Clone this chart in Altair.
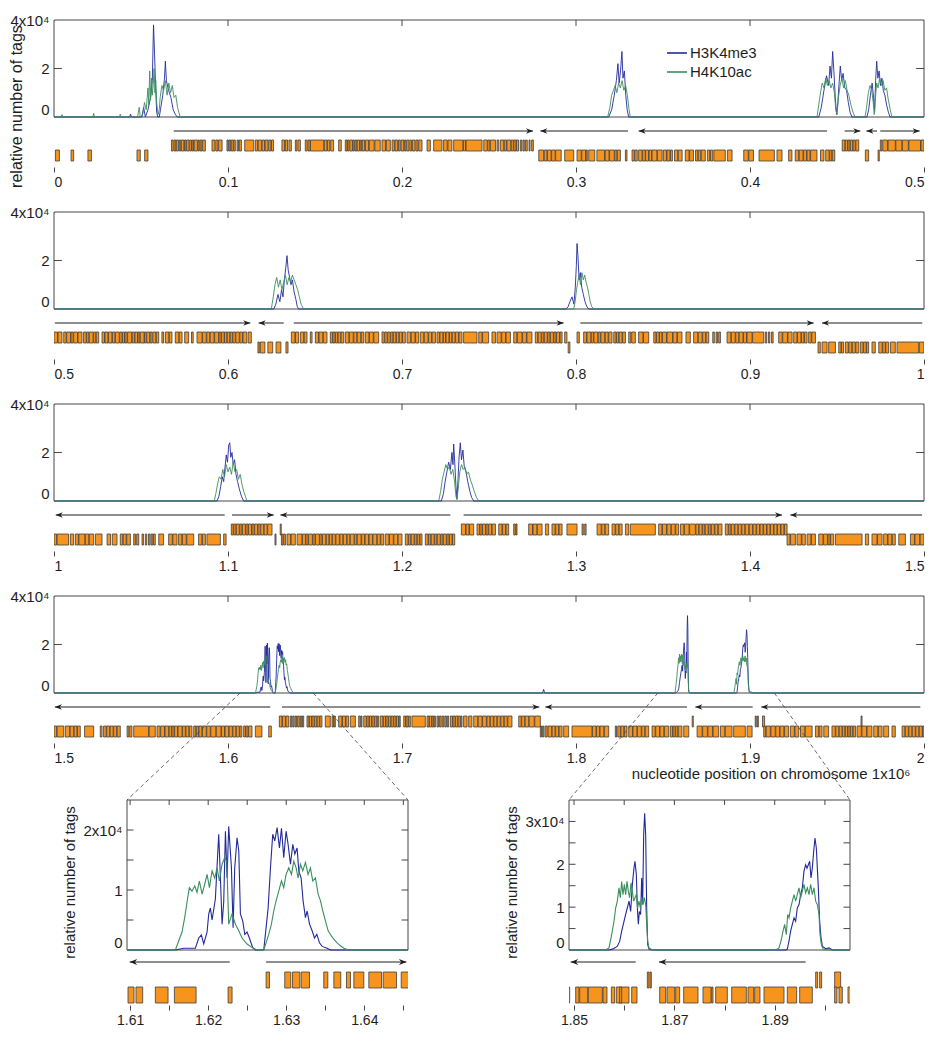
import altair as alt
import pandas as pd

FONT = "Liberation Sans"
BLUE = "#232a9c"
GREEN = "#3b8e5f"
ORANGE = "#f7941d"
EDGE = "#3c3c3c"
INK = "#1e1e1e"
FRAME = "#474747"
SERIES = ["H3K4me3", "H4K10ac"]

# ---------------- signal: (position in Mb, tags in units of 1e4) ----------------
H3K4ME3_P1 = [
    (0.0, 0), (0.0435, 0), (0.044, 0.12), (0.0445, 0),
    (0.0505, 0), (0.0515, 0.4), (0.0525, 0), (0.054, 0.3), (0.0555, 0.8), (0.0565, 1.5), (0.0572, 3.8),
    (0.0578, 2.6), (0.0584, 1.2), (0.059, 0.2), (0.0596, 0), (0.0605, 0), (0.0612, 0.3), (0.0625, 0.9),
    (0.0635, 1.6), (0.064, 2.3), (0.0646, 1.5), (0.0655, 1.2), (0.0663, 1.0), (0.0672, 0.8), (0.0685, 0.3),
    (0.0698, 0.1), (0.0708, 0),
    (0.3188, 0), (0.3205, 0.3), (0.322, 0.9), (0.3232, 1.5), (0.3241, 2.2), (0.3248, 1.4), (0.3256, 1.9),
    (0.3264, 2.7), (0.327, 1.6), (0.3278, 1.9), (0.3286, 0.9), (0.3294, 0.3), (0.3303, 0),
    (0.4395, 0), (0.441, 0.4), (0.4425, 1.1), (0.444, 1.7), (0.4452, 1.3), (0.446, 2.1), (0.4468, 1.6),
    (0.4475, 2.7), (0.4482, 1.9), (0.449, 0.8), (0.4498, 0.1), (0.4505, 0.6), (0.4512, 1.4), (0.4519, 2.1),
    (0.4527, 1.5), (0.4535, 1.8), (0.4545, 1.2), (0.4555, 1.1), (0.4565, 0.6), (0.4575, 0.2), (0.4586, 0),
    (0.4672, 0), (0.4682, 0.3), (0.4692, 0.9), (0.4702, 1.4), (0.471, 0.8), (0.4716, 0.2), (0.4722, 1.5),
    (0.4728, 2.3), (0.4735, 1.6), (0.4742, 1.9), (0.475, 1.3), (0.4758, 1.6), (0.4766, 1.1), (0.4775, 0.9),
    (0.4785, 0.5), (0.4795, 0.2), (0.4805, 0),
    (0.5, 0),
]
H3K4ME3_P2 = [
    (0.6263, 0), (0.6275, 0.2), (0.6287, 0.6), (0.6298, 0.3), (0.6308, 0.8), (0.6316, 0.5), (0.6324, 1.2),
    (0.6332, 1.7), (0.6339, 2.2), (0.6346, 1.6), (0.6354, 1.3), (0.6362, 1.0), (0.637, 1.2), (0.638, 0.7),
    (0.639, 0.4), (0.6398, 0.1), (0.6406, 0),
    (0.7943, 0), (0.7955, 0.1), (0.7965, 0.3), (0.7977, 0.5), (0.7988, 0.2), (0.7996, 0.9), (0.8002, 1.8),
    (0.8006, 2.7), (0.8011, 2.2), (0.8018, 1.2), (0.8025, 1.5), (0.8033, 0.9), (0.8042, 0.6), (0.8052, 0.3),
    (0.8062, 0.1), (0.8073, 0),
    (1.0, 0),
]
H3K4ME3_P3 = [
    (1.0937, 0), (1.0948, 0.2), (1.0958, 0.6), (1.0967, 1.0), (1.0975, 0.8), (1.0983, 1.4), (1.099, 1.9),
    (1.0997, 1.6), (1.1004, 2.3), (1.101, 2.4), (1.1016, 1.8), (1.1023, 2.0), (1.103, 1.5), (1.1038, 1.7),
    (1.1046, 1.1), (1.1055, 0.8), (1.1065, 0.5), (1.1077, 0.2), (1.109, 0),
    (1.2226, 0), (1.2238, 0.3), (1.2248, 0.8), (1.2258, 1.2), (1.2268, 1.6), (1.2278, 1.3), (1.2287, 2.0),
    (1.2293, 1.5), (1.2297, 2.35), (1.2303, 1.6), (1.231, 0.6), (1.2316, 0.1), (1.2322, 0.9), (1.2328, 1.8),
    (1.2335, 2.4), (1.2342, 1.7), (1.235, 2.1), (1.2358, 1.4), (1.2368, 1.2), (1.2378, 0.8), (1.239, 0.4),
    (1.24, 0.15), (1.2412, 0),
    (1.5, 0),
]
H3K4ME3_P4 = [
    (1.6158, 0), (1.61687, 0.03), (1.61836, 0.03), (1.61879, 0.2), (1.61913, 0.25), (1.61943, 0.1),
    (1.61986, 0.3), (1.62007, 0.6), (1.62028, 0.7), (1.6205, 0.5), (1.62092, 0.85), (1.62135, 1.93),
    (1.62157, 1.2), (1.62178, 0.43), (1.62199, 0.8), (1.62221, 1.98), (1.62242, 1.2), (1.62263, 2.06),
    (1.62298, 1.37), (1.62319, 0.37), (1.6234, 1.37), (1.6237, 1.87), (1.62392, 1.65), (1.62413, 0.6),
    (1.62443, 0.48), (1.62469, 0.26), (1.62498, 0.3), (1.62528, 0.2), (1.62554, 0.1), (1.62571, 0.04),
    (1.62605, 0),
    (1.62712, 0), (1.62733, 0.26), (1.62768, 0.7), (1.62798, 1.37), (1.62827, 1.93), (1.62853, 1.82),
    (1.62883, 2.04), (1.62913, 1.7), (1.62939, 2.03), (1.62968, 1.54), (1.62998, 1.98), (1.63024, 1.76),
    (1.63054, 1.43), (1.63084, 1.76), (1.6311, 1.6), (1.63139, 1.7), (1.63161, 1.32), (1.63191, 1.2),
    (1.63216, 0.82), (1.63246, 0.54), (1.63268, 0.65), (1.63298, 0.43), (1.63332, 0.32), (1.63362, 0.2),
    (1.63392, 0.26), (1.63426, 0.12), (1.6346, 0.06), (1.63524, 0.03), (1.63567, 0),
    (1.7808, 0), (1.7814, 0.15), (1.782, 0),
    (1.85697, 0), (1.85764, 0.02), (1.85817, 0.05), (1.85863, 0.09), (1.8591, 0.2), (1.8595, 0.44),
    (1.85996, 0.67), (1.86029, 0.83), (1.86062, 0.98), (1.86096, 1.14), (1.86129, 0.9), (1.86162, 1.53),
    (1.86195, 1.91), (1.86215, 2.07), (1.86242, 1.76), (1.86262, 0.98), (1.86282, 0.6), (1.86302, 0.9),
    (1.86328, 0.83), (1.86348, 1.68), (1.86368, 1.06), (1.86388, 2.69), (1.86408, 3.19), (1.86428, 2.69),
    (1.86448, 0.98), (1.86468, 0.13), (1.86494, 0.02), (1.86561, 0),
    (1.89218, 0), (1.89251, 0.02), (1.89284, 0.21), (1.89317, 0.44), (1.89351, 0.6), (1.89384, 0.75),
    (1.89417, 0.67), (1.8945, 0.98), (1.89484, 1.06), (1.89517, 1.29), (1.8955, 1.45), (1.89583, 1.84),
    (1.89616, 1.99), (1.89643, 1.91), (1.8967, 1.99), (1.89696, 2.07), (1.89723, 1.68), (1.89749, 1.91),
    (1.89776, 2.3), (1.89802, 2.61), (1.89829, 2.38), (1.89849, 1.91), (1.89869, 1.45), (1.89895, 0.67),
    (1.89922, 0.29), (1.89949, 0.09), (1.90015, 0.03), (1.90081, 0.05), (1.90148, 0),
    (2.0, 0),
]

H4K10AC_P1 = [
    (0.0, 0), (0.0041, 0), (0.0046, 0.1), (0.0051, 0), (0.0223, 0), (0.0228, 0.15), (0.0233, 0),
    (0.0376, 0), (0.0381, 0.12), (0.0386, 0),
    (0.048, 0), (0.049, 0.4), (0.0495, 0), (0.051, 0.1), (0.052, 0.6), (0.053, 0.3), (0.054, 1.2),
    (0.0545, 0.5), (0.055, 1.9), (0.0555, 0.7), (0.056, 1.6), (0.0565, 0.9), (0.057, 1.3), (0.0575, 2.0),
    (0.058, 1.0), (0.0585, 1.5), (0.059, 0.6), (0.0598, 0.1), (0.0605, 0.3), (0.061, 0.8), (0.062, 1.3),
    (0.063, 1.1), (0.064, 1.5), (0.065, 0.9), (0.066, 1.4), (0.067, 1.0), (0.068, 1.3), (0.069, 0.8),
    (0.07, 0.9), (0.071, 0.4), (0.0725, 0),
    (0.3182, 0), (0.3195, 0.4), (0.3205, 0.9), (0.3215, 1.1), (0.3225, 1.3), (0.3235, 1.0), (0.3245, 1.4),
    (0.3255, 1.2), (0.3265, 1.5), (0.3275, 1.1), (0.3285, 1.3), (0.3295, 0.9), (0.3305, 0.3), (0.3312, 0),
    (0.4385, 0), (0.4395, 0.5), (0.4405, 1.0), (0.4415, 1.4), (0.4425, 1.2), (0.4435, 1.6), (0.4445, 1.3),
    (0.4455, 1.5), (0.4465, 1.2), (0.4475, 1.4), (0.4485, 1.0), (0.4493, 0.3), (0.45, 0.1), (0.4508, 0.8),
    (0.4518, 1.3), (0.4528, 1.6), (0.4538, 1.2), (0.4548, 1.5), (0.4558, 1.1), (0.4568, 0.9), (0.458, 0.5),
    (0.4592, 0.2), (0.4603, 0),
    (0.4661, 0), (0.467, 0.4), (0.468, 1.0), (0.469, 1.3), (0.47, 1.1), (0.4708, 0.6), (0.4714, 0.1),
    (0.472, 0.7), (0.4728, 1.4), (0.4736, 1.2), (0.4745, 1.6), (0.4755, 1.3), (0.4765, 1.5), (0.4775, 1.1),
    (0.4785, 1.2), (0.4795, 0.7), (0.4806, 0.3), (0.4816, 0),
    (0.5, 0),
]
H4K10AC_P2 = [
    (0.6249, 0), (0.626, 0.5), (0.627, 1.0), (0.628, 1.3), (0.629, 0.9), (0.63, 1.2), (0.631, 0.8),
    (0.632, 1.1), (0.633, 1.4), (0.634, 1.0), (0.635, 1.3), (0.636, 1.1), (0.637, 1.4), (0.638, 1.2),
    (0.639, 1.0), (0.64, 0.8), (0.641, 0.5), (0.642, 0.2), (0.6435, 0),
    (0.7987, 0), (0.7995, 0.3), (0.8003, 0.8), (0.801, 1.1), (0.8018, 1.4), (0.8026, 1.0), (0.8034, 1.5),
    (0.8042, 1.2), (0.805, 1.4), (0.8058, 1.1), (0.8066, 0.9), (0.8074, 0.6), (0.8082, 0.3), (0.809, 0.1),
    (0.8102, 0),
    (1.0, 0),
]
H4K10AC_P3 = [
    (1.0921, 0), (1.093, 0.3), (1.094, 0.7), (1.095, 1.0), (1.096, 0.9), (1.097, 1.3), (1.098, 1.0),
    (1.099, 1.5), (1.1, 1.2), (1.101, 1.4), (1.102, 1.1), (1.103, 1.6), (1.104, 1.2), (1.105, 1.3),
    (1.106, 0.9), (1.107, 1.1), (1.108, 0.7), (1.109, 0.4), (1.11, 0.2), (1.1109, 0),
    (1.2211, 0), (1.2222, 0.4), (1.2232, 0.9), (1.2242, 1.2), (1.2252, 1.5), (1.2262, 1.3), (1.2272, 1.4),
    (1.2282, 1.1), (1.2292, 1.3), (1.2302, 0.8), (1.231, 0.2), (1.2316, 0.05), (1.2323, 0.5), (1.2332, 1.2),
    (1.2342, 1.5), (1.2352, 1.3), (1.2362, 1.4), (1.2372, 1.1), (1.2382, 1.2), (1.2392, 0.9), (1.2402, 0.7),
    (1.2415, 0.4), (1.2428, 0.15), (1.2441, 0),
    (1.5, 0),
]
H4K10AC_P4 = [
    (1.6158, 0), (1.61622, 0.15), (1.61665, 0.3), (1.61699, 0.54), (1.61729, 0.8), (1.61759, 1.04),
    (1.61793, 0.98), (1.61828, 1.07), (1.61857, 0.96), (1.61887, 1.15), (1.61922, 0.93), (1.61956, 1.1),
    (1.61986, 1.26), (1.62016, 1.04), (1.6205, 1.32), (1.62084, 1.2), (1.62114, 1.37), (1.62144, 1.15),
    (1.62178, 1.43), (1.62212, 1.54), (1.62238, 1.48), (1.62263, 0.43), (1.62306, 0.6), (1.62349, 0.43),
    (1.62392, 0.32), (1.62434, 0.2), (1.62498, 0.1), (1.62563, 0.04), (1.62627, 0),
    (1.62712, 0), (1.62742, 0.12), (1.62776, 0.26), (1.6281, 0.43), (1.6284, 0.65), (1.6287, 0.82),
    (1.62904, 0.98), (1.62939, 1.15), (1.62968, 1.04), (1.62998, 1.26), (1.63033, 1.37), (1.63067, 1.26),
    (1.63097, 1.48), (1.63127, 1.37), (1.63152, 1.2), (1.63182, 1.43), (1.63212, 1.32), (1.63246, 1.46),
    (1.6328, 1.26), (1.6331, 1.37), (1.6334, 1.15), (1.63374, 1.2), (1.63409, 0.93), (1.63439, 0.82),
    (1.63469, 0.65), (1.63503, 0.48), (1.63537, 0.32), (1.6358, 0.23), (1.6361, 0.18), (1.63652, 0.12),
    (1.63695, 0.07), (1.63738, 0.03), (1.63802, 0),
    (1.85631, 0), (1.85697, 0.05), (1.8575, 0.36), (1.85797, 0.67), (1.8583, 0.98), (1.85863, 1.14),
    (1.85896, 1.45), (1.85923, 1.22), (1.8595, 1.6), (1.85976, 1.29), (1.86003, 1.53), (1.86029, 1.29),
    (1.86056, 1.6), (1.86082, 1.37), (1.86109, 1.22), (1.86136, 1.57), (1.86162, 1.37), (1.86189, 1.14),
    (1.86215, 1.22), (1.86242, 1.29), (1.86268, 0.98), (1.86295, 1.14), (1.86322, 0.98), (1.86348, 1.22),
    (1.86375, 1.06), (1.86401, 1.22), (1.86428, 1.06), (1.86448, 0.6), (1.86468, 0.21), (1.86494, 0.05),
    (1.86561, 0),
    (1.89019, 0), (1.89085, 0.05), (1.89125, 0.21), (1.89165, 0.44), (1.89198, 0.6), (1.89231, 0.36),
    (1.89258, 0.83), (1.89284, 0.75), (1.89317, 0.98), (1.89351, 1.14), (1.89384, 1.29), (1.89417, 1.14),
    (1.8945, 1.29), (1.89484, 1.45), (1.89517, 1.22), (1.8955, 1.37), (1.89583, 1.53), (1.89616, 1.33),
    (1.8965, 1.45), (1.89683, 1.29), (1.89716, 1.53), (1.89749, 1.29), (1.89782, 1.45), (1.89816, 1.14),
    (1.89849, 1.06), (1.89882, 0.83), (1.89902, 0.36), (1.89929, 0.13), (1.89962, 0.02), (1.90048, 0),
    (2.0, 0),
]

# ---------------- genes (start, end) in kb ----------------
GENES_TOP_KB = [
    (67.5, 68.5), (69, 70), (70.3, 71.5), (72, 72.8), (73.2, 74.6), (75, 75.8), (76.2, 77.6), (78, 79),
    (79.4, 80.2), (80.6, 82.4), (82.8, 83.5), (84, 85), (85.4, 87),
    (90.8, 92.5), (93, 94.2), (94.6, 96.6), (99.4, 100.2), (100.6, 101.5), (101.9, 103), (103.3, 104.2),
    (105.2, 106), (106.5, 107.7), (109.6, 114.8), (115.7, 117), (117.4, 119.2), (119.6, 121), (121.4, 123),
    (123.4, 124.6), (125, 126.2), (131, 132.5), (133, 134.2), (135, 136.4), (138.7, 139.6), (140.2, 141.6),
    (144.4, 145.5), (146, 147.2), (147.4, 155), (155.4, 156.8), (157.2, 158.5), (159, 160.7), (163.6, 165.1),
    (167.4, 168.4), (168.7, 169.6), (170, 171.5), (171.8, 172.6), (173, 174), (174.3, 175.6), (176, 176.8),
    (177.2, 178.5), (179, 180.8), (181.2, 184), (184.4, 187.5), (188.5, 190.5), (191, 193.3), (194.3, 195.6),
    (196, 197.5), (198, 199), (199.5, 201), (201.4, 202.3), (202.7, 204), (204.5, 205.5), (206, 207.5),
    (208, 209.2), (209.6, 211.5), (214.4, 216.3), (218.2, 223), (223.9, 226), (226.4, 228.7), (229.7, 235),
    (235.3, 236.5), (236.8, 246), (247, 249), (249.3, 250.5), (250.8, 253.7), (254.6, 255.6), (256.5, 258.5),
    (258.8, 260), (260.3, 262.5), (262.8, 264), (264.3, 265.5), (265.8, 267), (268, 268.8), (269.5, 270.3),
    (271, 272), (273, 273.6), (274.5, 275.5),
    (453, 454.5), (454.8, 456), (456.3, 457.4), (457.7, 459), (459.3, 460.5), (460.8, 462.5),
    (474.9, 475.8), (476.3, 479), (479.4, 483.5), (483.8, 487.3), (487.6, 491), (491.3, 498), (498.3, 500),
    (500, 502), (502.3, 504.6), (505.6, 507), (507.3, 509.5), (509.8, 511), (511.3, 513.5), (513.8, 516.1),
    (517, 518.5), (518.8, 520), (520.3, 522.5), (522.8, 524), (524.3, 525.7), (527.6, 529), (529.3, 531),
    (531.3, 533.3), (533.6, 535), (535.3, 537.5), (537.8, 539.1), (539.4, 540.5), (540.8, 542), (542.3, 544.6),
    (545, 546.2), (546.5, 548), (548.3, 549.3), (549.6, 551.8), (552, 553), (553.3, 555), (555.3, 556.4),
    (556.8, 558.5), (558.8, 560.2), (562, 563), (564, 566), (566.3, 567.8), (569.7, 571.8), (572, 573.6),
    (575.1, 577.4), (579, 580), (582.2, 585.1), (585.4, 587.5), (587.8, 589.5), (589.8, 592), (592.3, 594.6),
    (594.9, 596), (596.3, 597.8), (598, 599.3), (599.6, 601), (601.3, 602.5), (602.8, 604.2), (604.5, 606.5),
    (606.8, 608.3), (608.6, 610.8), (611.6, 613.4),
    (636.4, 638.5), (638.8, 640.6), (641.6, 643.5), (643.8, 645.4), (647.3, 648.3), (650.2, 652), (652.3, 654.5),
    (654.8, 656.9), (658.8, 660), (660.3, 661.5), (661.8, 663), (663.3, 664.8), (665, 666.5), (667.4, 669.5),
    (669.8, 672), (672.3, 674), (674.3, 676.3), (676.6, 678), (678.9, 681), (681.3, 683.5), (683.8, 686.6),
    (688.5, 689.8), (690.1, 691.5), (691.8, 693.2), (693.5, 694.8), (695, 696.5), (696.8, 698.2), (698.5, 700),
    (700.3, 701.9), (702.9, 705), (705.3, 707.5), (707.8, 709.6), (710.5, 712.5), (712.8, 715), (715.3, 717),
    (717.3, 719.2), (720.1, 721.5), (721.8, 723.5), (723.8, 725), (725.3, 727), (727.3, 728.6), (728.9, 730.5),
    (730.8, 732.5), (732.8, 734.5), (735.4, 743.1), (744.1, 746), (746.3, 749.8), (751.7, 753.7), (754.6, 757),
    (757.3, 759.5), (759.8, 762.3), (764.2, 766), (766.3, 769), (769.3, 771.5), (771.8, 774.7), (776.6, 778),
    (778.3, 780), (780.3, 781.5), (781.8, 783.5), (783.8, 785), (785.3, 787), (787.3, 788.5), (788.8, 790.5),
    (790.8, 792), (793.5, 794.8),
    (800.6, 801.9), (804.4, 806), (806.3, 808.5), (808.8, 810), (810.3, 812.5), (812.8, 814), (814.3, 816.5),
    (816.8, 818.5), (818.8, 820.7), (821.7, 823), (823.3, 824.5), (824.8, 826.5), (826.8, 828.4), (830.3, 831.5),
    (832, 834.1), (836, 838.5), (838.8, 841.8), (844.7, 846), (846.3, 847.8), (848, 849.4), (849.7, 852),
    (852.3, 855.5), (855.8, 858), (858.3, 860.9), (863.2, 865.7), (867.6, 870), (870.3, 872.5), (872.8, 874.5),
    (874.8, 876.3), (878.6, 879.5), (880.5, 881.3), (882, 883), (886.8, 889), (889.3, 891.5), (891.8, 893.5),
    (893.8, 896), (896.3, 898), (898.3, 901.2), (901.5, 907.9), (908.8, 909.6), (910.6, 911.4), (912.4, 913.3),
    (916.5, 918.5), (918.8, 921.5), (921.8, 924.2), (925.1, 927), (927.3, 929.3), (929.6, 931), (931.3, 932.8),
    (933.7, 935.2), (935.5, 937.6),
    (1101.9, 1103), (1103.3, 1104.5), (1104.8, 1106.5), (1106.8, 1108), (1108.3, 1110), (1110.3, 1111.5),
    (1111.8, 1113.5), (1113.8, 1115), (1115.3, 1117), (1117.3, 1118.5), (1118.8, 1120.5), (1120.8, 1122.5),
    (1122.8, 1125.3), (1130, 1130.6),
    (1234.1, 1236.5), (1236.8, 1238.5), (1238.8, 1241.2), (1243.1, 1244.5), (1244.8, 1246), (1246.3, 1248),
    (1248.3, 1249.5), (1249.8, 1251.5), (1251.8, 1253.7), (1255.6, 1257.5), (1257.8, 1259.5), (1259.8, 1261.3),
    (1264.2, 1265.1), (1265.5, 1266.1), (1272.8, 1275), (1275.3, 1277.5), (1277.8, 1280.5), (1282.4, 1284.3),
    (1286.2, 1288), (1288.3, 1290), (1290.3, 1292), (1294.8, 1300.6), (1303.5, 1304.2), (1305, 1305.8),
    (1312.1, 1314.5), (1314.8, 1316.5), (1316.8, 1318.8), (1320.7, 1322.5), (1322.8, 1324.5), (1324.8, 1326.5),
    (1328.4, 1330.3), (1331.2, 1345.6), (1347.5, 1349.4), (1349.7, 1352), (1352.3, 1354.5), (1354.8, 1357),
    (1357.3, 1359), (1360, 1362), (1362.3, 1365), (1365.3, 1368.6), (1368.9, 1370.5), (1370.8, 1372.5),
    (1372.8, 1374), (1374.3, 1376), (1376.3, 1377.5), (1377.8, 1379.5), (1379.8, 1381.5), (1381.8, 1383.9),
    (1385.8, 1387.5), (1387.8, 1389), (1389.3, 1391), (1391.3, 1393), (1393.3, 1395), (1395.3, 1397),
    (1397.3, 1399.3), (1399.6, 1401.5), (1401.8, 1403.5), (1403.8, 1405.5), (1405.8, 1407.5), (1407.8, 1409.5),
    (1409.8, 1411.5), (1411.8, 1413.5), (1413.8, 1415.5), (1415.8, 1417.5), (1417.8, 1419.5), (1419.8, 1421.3),
    (1629.5, 1631), (1631.3, 1633), (1633.3, 1634.9), (1635.8, 1636.6), (1637.2, 1638), (1638.6, 1639.4),
    (1640, 1641), (1641.6, 1642.4), (1642.8, 1643.5), (1645.4, 1646.5), (1646.8, 1648), (1648.3, 1649.5),
    (1649.8, 1651), (1651.3, 1652.5), (1652.8, 1654), (1655.9, 1658.8), (1659.8, 1660.6), (1661, 1661.7),
    (1663.6, 1665.5), (1665.8, 1667.5), (1667.8, 1669.3), (1670.3, 1673.2), (1675.1, 1676), (1676.4, 1677),
    (1678, 1679.5), (1679.8, 1681), (1681.3, 1682.5), (1682.8, 1684), (1684.3, 1685.5), (1685.8, 1686.6),
    (1687.5, 1689), (1689.3, 1690.5), (1690.8, 1692), (1692.3, 1693.5), (1693.8, 1695), (1695.3, 1696.5),
    (1696.8, 1698), (1698.3, 1699), (1701, 1702), (1702.3, 1703.5), (1703.8, 1704.8), (1705.7, 1713.4),
    (1714.4, 1715.5), (1715.8, 1717), (1717.3, 1718.2), (1718.5, 1719.2), (1720.1, 1721), (1721.6, 1722.5),
    (1723.1, 1724), (1724.6, 1725.5), (1726, 1726.8), (1727.8, 1729), (1729.3, 1730.5), (1730.8, 1732),
    (1732.3, 1733.5), (1733.8, 1734.5), (1735.4, 1737.4), (1738.3, 1740.2), (1741.2, 1743.5), (1743.8, 1746),
    (1746.3, 1748.5), (1748.8, 1750.5), (1750.8, 1752.5), (1752.8, 1754.5), (1754.8, 1756.5), (1756.8, 1758.5),
    (1758.8, 1760.5), (1760.8, 1763.2), (1767.1, 1768.5), (1768.8, 1770.5), (1770.8, 1772.8), (1773.1, 1776),
    (1776.3, 1779.5),
    (1866.8, 1867.4), (1903, 1903.6), (1904.2, 1904.8), (1907.2, 1908.4), (1963.8, 1964.4),
]
GENES_BOTTOM_KB = [
    (0.8, 3.1), (9.8, 11.3), (19.5, 21.5), (47.7, 49.6), (52.1, 54),
    (278.6, 281.4), (281.8, 283.3), (283.6, 285.7), (286, 288), (288.3, 291.5), (293.5, 298.7), (300.6, 303),
    (303.3, 305.5), (305.8, 306.5), (307.3, 310.8), (312, 316.4), (316.8, 319), (319.3, 322), (322.3, 323.5),
    (323.8, 325.5), (328.4, 329.3),
    (332.2, 333.5), (333.8, 335.2), (336, 338), (338.3, 339.8), (340, 341.7), (342, 343.4), (343.7, 346.5),
    (346.8, 349.5), (350.2, 352), (352.3, 354), (354.3, 355.4), (356.6, 358.5), (358.8, 361), (362.8, 365),
    (365.3, 367.5), (368.7, 370), (370.3, 371.7), (372, 374.3), (375.5, 376.8), (377.3, 378.6), (379.2, 385.8),
    (387, 389.7), (396.4, 399), (399.3, 402), (405.2, 414), (415.5, 418.4),
    (422.2, 424.1), (426, 428), (428.3, 430.5), (430.8, 432.5), (432.8, 434.5), (434.8, 438.5), (440.5, 442.5),
    (443.5, 445.5), (445.8, 447), (447.3, 448.7), (466.3, 468.2), (473.6, 474.3),
    (617.2, 618), (618.6, 621.2), (622.9, 625.7), (627.6, 630.4), (633.3, 634.5), (795.5, 796.5),
    (939.1, 940.4), (941.4, 944.3), (945.2, 949.1), (951, 952.3), (952.6, 953.8), (954.8, 956.5), (956.8, 958.5),
    (958.8, 960.5), (960.8, 962.5), (963.4, 965), (965.3, 966.8), (967, 968.2), (970.1, 972), (974, 976),
    (976.3, 977.8), (978, 979.7), (980.7, 983.5), (984.5, 997), (997.3, 1000),
    (1000, 1001.5), (1001.8, 1008.4), (1009.4, 1011.3), (1012.3, 1014), (1014.3, 1017.8), (1018, 1020),
    (1020.3, 1022.8), (1023.8, 1027.6), (1030.5, 1032.5), (1033.5, 1036.2), (1038.1, 1039.5), (1039.8, 1041.5),
    (1041.8, 1043.9), (1045.8, 1046.8), (1047.5, 1048.7), (1050.6, 1051.4), (1052.5, 1053.3), (1054.3, 1055.2),
    (1055.8, 1056.8), (1057.2, 1058.2), (1060.2, 1063), (1065.9, 1068), (1068.3, 1070.7), (1071.6, 1073.5),
    (1073.8, 1076), (1076.3, 1080.3), (1083.1, 1085), (1085.3, 1087), (1087.9, 1095.6), (1097.5, 1098.9),
    (1127, 1127.6),
    (1130.7, 1131.6), (1132, 1133), (1133.9, 1136), (1136.3, 1138.7), (1139.7, 1142.5), (1142.8, 1144.5),
    (1144.8, 1146), (1146.3, 1148.5), (1148.8, 1150), (1150.3, 1152.5), (1152.8, 1154), (1154.3, 1156.2),
    (1156.5, 1158), (1158.3, 1159.8), (1160, 1161.7), (1162, 1164), (1164.3, 1166), (1166.3, 1168.2),
    (1168.5, 1170), (1170.3, 1172.5), (1172.8, 1174), (1174.3, 1176.5), (1176.8, 1178.5), (1178.8, 1180.8),
    (1181.1, 1183), (1183.3, 1185.5), (1185.8, 1187.5), (1187.8, 1189.5), (1190.4, 1192.5), (1192.8, 1195),
    (1195.3, 1197.5), (1197.8, 1200), (1201.9, 1203.5), (1203.8, 1205), (1205.3, 1207), (1207.3, 1208.5),
    (1208.8, 1210), (1210.3, 1211.5), (1213.4, 1215), (1215.3, 1216.5), (1216.8, 1218.5), (1218.8, 1220),
    (1220.3, 1222), (1222.3, 1223.5), (1223.8, 1225.5), (1225.8, 1227), (1227.3, 1228.8), (1229, 1230.3),
    (1421.3, 1423), (1423.3, 1426.1), (1427, 1429.5), (1429.8, 1431.8), (1432.8, 1435), (1435.3, 1437.6),
    (1439.5, 1442), (1442.3, 1444.5), (1444.8, 1446), (1446.3, 1448.1), (1449.1, 1464.4), (1466.3, 1468.2),
    (1470.1, 1473), (1473.3, 1475.9), (1476.8, 1479), (1479.3, 1481.5), (1481.8, 1483.5), (1485.5, 1489.3),
    (1492.2, 1494.5), (1494.8, 1497.5), (1497.8, 1500),
    (1500, 1501.5), (1501.8, 1505.6), (1506.5, 1509), (1509.3, 1511.3), (1511.6, 1513.2), (1513.5, 1515.1),
    (1517.6, 1522.8), (1526.6, 1527.6), (1528.5, 1530), (1530.3, 1532), (1532.3, 1534), (1534.3, 1536),
    (1536.3, 1538.1), (1542, 1543), (1543.5, 1544.8), (1545.8, 1554.4), (1554.7, 1558.2), (1559.2, 1561),
    (1561.3, 1563.5), (1563.8, 1565.9), (1566.2, 1567.5), (1567.8, 1569), (1569.3, 1571), (1571.3, 1573.6),
    (1573.9, 1575.5), (1575.8, 1577.5), (1577.8, 1579.3), (1580.3, 1581.5), (1581.8, 1583), (1583.3, 1585),
    (1585.3, 1587.5), (1587.8, 1589.8), (1590.1, 1593), (1593.3, 1596), (1596.3, 1598), (1598.3, 1600.4),
    (1600.7, 1602.5), (1602.8, 1604.5), (1604.8, 1606.5), (1606.8, 1608), (1609, 1610), (1610.3, 1611.5),
    (1611.8, 1613.8), (1615.7, 1619.5), (1623.4, 1624.9),
    (1779.5, 1780.2), (1780.8, 1781.5), (1782.2, 1783.4), (1783.9, 1786), (1786.3, 1788), (1788.3, 1790),
    (1790.3, 1792), (1792.9, 1795.8), (1797.7, 1809.2), (1809.5, 1811.5), (1811.8, 1813.5), (1813.8, 1816),
    (1816.3, 1818.8), (1822.6, 1823.3), (1824, 1825.5), (1825.8, 1827.5), (1827.8, 1829.3), (1830.3, 1832.5),
    (1832.8, 1835), (1835.3, 1837.5), (1837.8, 1839.5), (1839.8, 1841.8), (1843.7, 1845.5), (1845.8, 1848),
    (1848.3, 1850.5), (1850.8, 1853.3), (1854.2, 1855.5), (1855.8, 1857), (1857.3, 1858.5), (1858.8, 1860.9),
    (1861.9, 1864.8), (1869.6, 1872.5), (1872.8, 1875.5), (1875.8, 1878.5), (1878.8, 1882), (1883, 1885.5),
    (1885.8, 1889.7), (1890.6, 1897.3), (1898.3, 1901.2), (1907.9, 1909), (1909.3, 1911.7), (1912, 1914.5),
    (1914.8, 1917), (1917.3, 1919.5), (1919.8, 1922.2), (1923.2, 1925.5), (1925.8, 1928), (1929, 1931.5),
    (1931.8, 1935.7), (1937.6, 1939.5), (1939.8, 1941.4), (1942.4, 1945.2), (1947.1, 1949), (1949.3, 1951),
    (1951.3, 1952.9), (1953.2, 1954.5), (1954.8, 1956), (1956.3, 1957.5), (1957.8, 1959), (1959.3, 1960.6),
    (1961.5, 1964), (1964.3, 1967), (1967.3, 1970.1), (1971.1, 1973.5), (1973.8, 1975.9), (1976.8, 1979.7),
    (1981.6, 1983.5), (1987.4, 1989), (1989.3, 1991), (1991.3, 1993), (1993.3, 1995), (1995.3, 1997),
    (1997.3, 1999), (1999.2, 2000),
]

# transcription direction arrows (start Mb, end Mb, strand)
ARROWS = [
    (0.0688, 0.2753, "+"), (0.2795, 0.3299, "-"), (0.336, 0.4443, "-"), (0.4544, 0.4634, "+"),
    (0.4669, 0.4730, "-"), (0.4749, 0.4975, "+"),
    (0.5005, 0.6128, "+"), (0.6176, 0.632, "-"), (0.6378, 0.7929, "+"), (0.8025, 0.9366, "+"),
    (0.9414, 0.999, "-"),
    (1.001, 1.0981, "-"), (1.1023, 1.1263, "+"), (1.1301, 1.2278, "-"), (1.2354, 1.4184, "+"),
    (1.4232, 1.4989, "-"),
    (1.5005, 1.6243, "-"), (1.631, 1.7789, "+"), (1.7824, 1.8638, "-"), (1.8686, 1.9015, "-"),
    (1.9065, 1.9979, "-"),
]

# zoomed insets (Mb)
INSET_A_DOMAIN = (1.6096, 1.6456)
INSET_B_DOMAIN = (1.849, 1.905)
ZOOM_WINDOWS = [(1.607, 1.649), (1.847, 1.914)]
INSET_A_TOP = [(1.62742, 1.62785), (1.62981, 1.63058), (1.6308, 1.63174), (1.63191, 1.63298), (1.63481, 1.63533),
               (1.6361, 1.63699), (1.63772, 1.63823), (1.63866, 1.63994), (1.64058, 1.64221), (1.64242, 1.64413),
               (1.64473, 1.6462)]
INSET_A_BOTTOM = [(1.60973, 1.6105), (1.61075, 1.61161), (1.61323, 1.61486), (1.61567, 1.61845), (1.62255, 1.62306)]
INSET_A_ARROWS = [(1.60994, 1.62276, "-"), (1.62742, 1.6454, "+")]
INSET_B_TOP = [(1.86461, 1.86494), (1.86514, 1.86541), (1.89816, 1.89855), (1.89895, 1.89935), (1.90194, 1.90314)]
INSET_B_BOTTOM = [(1.84834, 1.84913), (1.85033, 1.85099), (1.85113, 1.85272), (1.85285, 1.85564), (1.85578, 1.85657),
                  (1.85744, 1.8581), (1.85843, 1.86096), (1.8591, 1.8595), (1.86149, 1.86255), (1.86707, 1.86826),
                  (1.86853, 1.87006), (1.87026, 1.87105), (1.87185, 1.87471), (1.8757, 1.8773), (1.87743, 1.8777),
                  (1.87823, 1.88055), (1.88142, 1.88434), (1.88467, 1.8858), (1.886, 1.88706), (1.88786, 1.89185),
                  (1.89251, 1.89437), (1.89497, 1.89749), (1.90194, 1.9024), (1.90281, 1.90347), (1.9046, 1.90533)]
INSET_B_ARROWS = [(1.84933, 1.86229, "-"), (1.86694, 1.89616, "-")]

MAIN_RANGES = [(0.0, 0.5), (0.5, 1.0), (1.0, 1.5), (1.5, 2.0)]
MAIN_XTICKS = [[0, 0.1, 0.2, 0.3, 0.4, 0.5], [0.5, 0.6, 0.7, 0.8, 0.9, 1.0],
               [1.0, 1.1, 1.2, 1.3, 1.4, 1.5], [1.5, 1.6, 1.7, 1.8, 1.9, 2.0]]
MAIN_YLABELS = [0, 2, 4]
INSET_A_XTICKS = [1.61, 1.615, 1.62, 1.625, 1.63, 1.635, 1.64, 1.645]
INSET_A_XLABELS = [1.61, 1.62, 1.63, 1.64]
INSET_A_YTICKS = [0, 0.5, 1, 1.5, 2, 2.5]
INSET_A_YLABELS = [0, 1, 2]
INSET_B_XTICKS = [1.85, 1.86, 1.87, 1.88, 1.89, 1.9]
INSET_B_XLABELS = [1.85, 1.87, 1.89]
INSET_B_YTICKS = [0, 0.5, 1, 1.5, 2, 2.5, 3, 3.5]
INSET_B_YLABELS = [0, 1, 2, 3]

# ---------------- layout (pixels) ----------------
MAIN = dict(width=870, above=0, sig=97, below=50, arrow=14, top_row=(23, 34), bottom_row=(33, 44), tick=6,
            lw=0.9, head=49)
INSET = dict(width=281, above=12, sig=150, below=55, arrow=12, top_row=(22, 38), bottom_row=(37, 53), tick=5,
             lw=1.1, head=56)
ROW_GAP = 45
SPACER_W = 73
INSET_GAP = 161
HEAD_RIGHT = "M0,0L-2,-0.8L-1.4,0L-2,0.8Z"
HEAD_LEFT = "M0,0L2,-0.8L1.4,0L2,0.8Z"

blue_df = pd.DataFrame(H3K4ME3_P1 + H3K4ME3_P2 + H3K4ME3_P3 + H3K4ME3_P4, columns=["pos", "val"])
blue_df["series"] = SERIES[0]
green_df = pd.DataFrame(H4K10AC_P1 + H4K10AC_P2 + H4K10AC_P3 + H4K10AC_P4, columns=["pos", "val"])
green_df["series"] = SERIES[1]


def y_axis(labels, title=None, title_x=-30, title_y=None, title_size=16):
    top = max(labels)
    kw = dict(values=labels, format="d",
              labelExpr=f"datum.value == {top} ? '{top}x10\u2074' : datum.label",
              labelBaseline={"condition": {"test": "datum.value == 0", "value": "bottom"}, "value": "middle"},
              domain=False, grid=False, ticks=False, tickSize=0, labelPadding=5,
              labelFontSize=15, labelFont=FONT, labelColor=INK)
    if title:
        kw.update(title=title, titleX=title_x, titleY=title_y, titleFontSize=title_size, titleFont=FONT,
                  titleFontWeight="normal", titleColor=INK)
    else:
        kw["title"] = None
    return alt.Axis(**kw)


def x_axis(ticks, labels=None, flush=True, title=None, title_x=None):
    kw = dict(values=ticks, domain=False, grid=False, tickSize=5, tickColor=FRAME, tickWidth=1,
              labelFontSize=14, labelFont=FONT, labelColor=INK, labelPadding=3, labelFlush=flush)
    if labels is None:
        kw["format"] = "~g"
    else:
        kw["labelExpr"] = f"indexof({labels}, datum.value) >= 0 ? format(datum.value, '.2f') : ''"
    if title:
        kw.update(title=title, titleFontSize=15, titleFont=FONT, titleFontWeight="normal", titleColor=INK,
                  titleAlign="right", titleAnchor="end", titleX=title_x, titlePadding=1)
    else:
        kw["title"] = None
    return alt.Axis(**kw)


def make_panel(x0, x1, ytop, geom, xax, yax, xticks_in, yticks_in, genes_top, genes_bottom, arrows,
               legend=None, zoom=None):
    W, above, sig, below = geom["width"], geom["above"], geom["sig"], geom["below"]
    H = above + sig + below
    unit = sig / ytop
    xpx = W / (x1 - x0)
    lev = lambda px: -px / unit
    xs = alt.Scale(domain=[x0, x1], nice=False, zero=False)
    ys = alt.Scale(domain=[-below / unit, ytop + above / unit], nice=False, zero=False)
    X = lambda f: alt.X(f + ":Q", scale=xs, axis=xax)
    Y = lambda f: alt.Y(f + ":Q", scale=ys, axis=yax)

    layers = []
    frame = pd.DataFrame({"x": [x0], "x2": [x1], "y": [0.0], "y2": [float(ytop)]})
    layers.append(alt.Chart(frame).mark_rect(fillOpacity=0, stroke=FRAME, strokeWidth=1)
                  .encode(x=X("x"), x2="x2", y=Y("y"), y2="y2"))

    tl = geom["tick"]
    rows = [dict(x=t, x2=t, y=ytop, y2=ytop - tl / unit) for t in xticks_in if x0 < t < x1]
    rows += [dict(x=x0, x2=x0 + tl * 1.3 / xpx, y=v, y2=v) for v in yticks_in if 0 < v < ytop]
    rows += [dict(x=x1, x2=x1 - tl * 1.3 / xpx, y=v, y2=v) for v in yticks_in if 0 < v < ytop]
    layers.append(alt.Chart(pd.DataFrame(rows)).mark_rule(color=FRAME, strokeWidth=1)
                  .encode(x=X("x"), x2="x2", y=Y("y"), y2="y2"))

    for df, col in ((blue_df, BLUE), (green_df, GREEN)):
        base = alt.Chart(df).mark_line(strokeWidth=geom["lw"], clip=True)
        if legend is not None:
            c = alt.Color("series:N", scale=alt.Scale(domain=SERIES, range=[BLUE, GREEN]), legend=legend)
        else:
            c = alt.value(col)
        layers.append(base.encode(x=X("pos"), y=Y("val"), color=c))

    gt = pd.DataFrame(genes_top, columns=["start", "end"])
    gt["y"], gt["y2"] = lev(geom["top_row"][0]), lev(geom["top_row"][1])
    gb = pd.DataFrame(genes_bottom, columns=["start", "end"])
    gb["y"], gb["y2"] = lev(geom["bottom_row"][0]), lev(geom["bottom_row"][1])
    genes = pd.concat([gt, gb], ignore_index=True)
    genes = genes[(genes["end"] > x0) & (genes["start"] < x1)]
    layers.append(alt.Chart(genes).mark_rect(fill=ORANGE, stroke=EDGE, strokeWidth=0.8, clip=True)
                  .encode(x=X("start"), x2="end", y=Y("y"), y2="y2"))

    ad = pd.DataFrame(arrows, columns=["start", "end", "strand"])
    ad = ad[(ad["end"] > x0) & (ad["start"] < x1)].copy()
    ad["y"] = lev(geom["arrow"])
    ad["head"] = ad["end"].where(ad["strand"] == "+", ad["start"])
    layers.append(alt.Chart(ad).mark_rule(color=INK, strokeWidth=1)
                  .encode(x=X("start"), x2="end", y=Y("y")))
    layers.append(alt.Chart(ad).mark_point(filled=True, color=INK, opacity=1, size=geom["head"])
                  .encode(x=X("head"), y=Y("y"),
                          shape=alt.Shape("strand:N", scale=alt.Scale(domain=["+", "-"], range=[HEAD_RIGHT, HEAD_LEFT]),
                                          legend=None)))

    if zoom is not None:
        top_px = H + ROW_GAP + INSET["above"]
        lefts = [SPACER_W, SPACER_W + INSET["width"] + INSET_GAP]
        rows = []
        for (a, b), lp in zip(zoom, lefts):
            yb = ytop - top_px / unit
            rows.append(dict(x=a, y=0.0, x2=x0 + lp / xpx, y2=yb))
            rows.append(dict(x=b, y=0.0, x2=x0 + (lp + INSET["width"]) / xpx, y2=yb))
        layers.append(alt.Chart(pd.DataFrame(rows)).mark_rule(color="#444444", strokeWidth=0.8, strokeDash=[4, 3])
                      .encode(x=X("x"), y=Y("y"), x2="x2", y2="y2"))

    return alt.layer(*layers).properties(width=W, height=H)


legend = alt.Legend(title=None, orient="none", legendX=612, legendY=22, symbolType="stroke", symbolSize=400,
                    symbolStrokeWidth=1.6, labelFontSize=15, labelFont=FONT, labelColor=INK, rowPadding=0,
                    labelOffset=2, padding=0)

main_panels = []
for i, ((x0, x1), ticks) in enumerate(zip(MAIN_RANGES, MAIN_XTICKS)):
    ytitle = "relative number of tags" if i == 0 else None
    xtitle = "nucleotide position on chromosome 1x10\u2076" if i == 3 else None
    p = make_panel(
        x0, x1, 4, MAIN,
        x_axis(ticks, title=xtitle, title_x=856),
        y_axis(MAIN_YLABELS, title=ytitle, title_x=-30, title_y=86, title_size=16),
        ticks, MAIN_YLABELS,
        [(a / 1000, b / 1000) for a, b in GENES_TOP_KB],
        [(a / 1000, b / 1000) for a, b in GENES_BOTTOM_KB],
        ARROWS,
        legend=legend if i == 0 else None,
        zoom=ZOOM_WINDOWS if i == 3 else None,
    )
    main_panels.append(p)

inset_a = make_panel(
    INSET_A_DOMAIN[0], INSET_A_DOMAIN[1], 2.5, INSET,
    x_axis(INSET_A_XTICKS, labels=INSET_A_XLABELS, flush=False),
    y_axis(INSET_A_YLABELS, title="relative number of tags", title_x=-50, title_y=INSET["above"] + 82,
           title_size=15),
    INSET_A_XTICKS, INSET_A_YTICKS, INSET_A_TOP, INSET_A_BOTTOM, INSET_A_ARROWS,
)
inset_b = make_panel(
    INSET_B_DOMAIN[0], INSET_B_DOMAIN[1], 3.5, INSET,
    x_axis(INSET_B_XTICKS, labels=INSET_B_XLABELS, flush=False),
    y_axis(INSET_B_YLABELS, title="relative number of tags", title_x=-50, title_y=INSET["above"] + 82,
           title_size=15),
    INSET_B_XTICKS, INSET_B_YTICKS, INSET_B_TOP, INSET_B_BOTTOM, INSET_B_ARROWS,
)

spacer = alt.Chart(pd.DataFrame({"v": [0]})).mark_point(opacity=0).encode(
    x=alt.X("v:Q", axis=None), y=alt.Y("v:Q", axis=None)
).properties(width=SPACER_W, height=INSET["above"] + INSET["sig"] + INSET["below"])

inset_row = alt.hconcat(spacer, alt.hconcat(inset_a, inset_b, spacing=INSET_GAP, bounds="flush"),
                        spacing=0, bounds="flush")

chart = alt.vconcat(*main_panels, inset_row, spacing=ROW_GAP, bounds="flush").configure_view(
    stroke=None
).properties(padding={"left": 0, "top": 5, "right": 0, "bottom": 0}, background="white")

chart.save("out.html", embed_options={"renderer": "svg", "actions": False})
